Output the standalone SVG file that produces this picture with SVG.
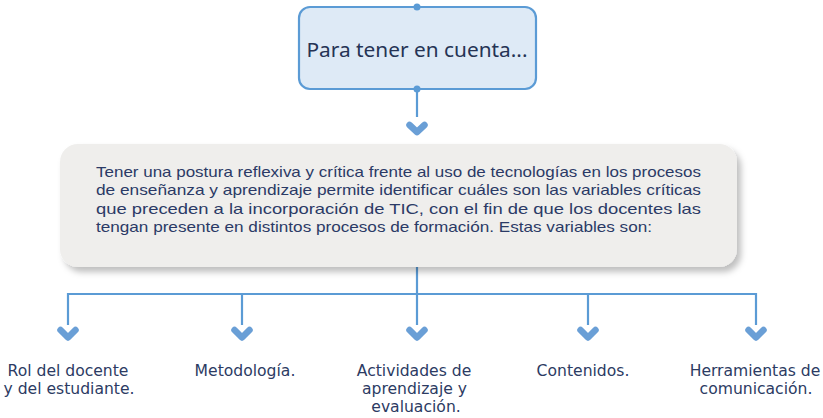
<svg xmlns="http://www.w3.org/2000/svg" width="823" height="418" viewBox="0 0 823 418">
<defs>
<style>
.line{stroke:#5b9bd5;stroke-width:2.2;fill:none}
.chev{stroke:#6a9fd6;stroke-width:6.5;fill:none;stroke-linecap:round;stroke-linejoin:round}
.lbl{font-family:"DejaVu Sans",sans-serif;font-size:15.6px;fill:#2c3b63;text-anchor:middle}
.body{font-family:"Liberation Sans",Arial,sans-serif;font-size:14.5px;fill:#2b3a66}
</style>
<filter id="sh" x="-5%" y="-10%" width="115%" height="130%">
<feDropShadow dx="4" dy="5" stdDeviation="3" flood-color="#000" flood-opacity="0.25"/>
</filter>
</defs>
<g id="connectors">
<line class="line" x1="417" y1="89" x2="417" y2="117"/>
<path class="chev" d="M409.5,125 L417,132 L424.5,125"/>
<line class="line" x1="417" y1="267" x2="417" y2="325"/>
<line class="line" x1="68" y1="294" x2="756" y2="294"/>
<line class="line" x1="68" y1="293" x2="68" y2="325"/>
<line class="line" x1="242" y1="294" x2="242" y2="325"/>
<line class="line" x1="588" y1="294" x2="588" y2="325"/>
<line class="line" x1="756" y1="293" x2="756" y2="325"/>
<path class="chev" d="M60.5,330 L68,337.5 L75.5,330"/>
<path class="chev" d="M234.5,330 L242,337.5 L249.5,330"/>
<path class="chev" d="M409.5,330 L417,337.5 L424.5,330"/>
<path class="chev" d="M580.5,330 L588,337.5 L595.5,330"/>
<path class="chev" d="M748.5,330 L756,337.5 L763.5,330"/>
</g>
<g id="top">
<rect x="299" y="7" width="237" height="82" rx="11" fill="#deeaf6" stroke="#5b9bd5" stroke-width="2.2"/>
<circle cx="417" cy="7" r="3.5" fill="#5b9bd5"/>
<circle cx="417" cy="89" r="3.5" fill="#5b9bd5"/>
<text x="417" y="57" font-family="Noto Sans,Open Sans,sans-serif" font-size="19" fill="#253455" text-anchor="middle" textLength="221" lengthAdjust="spacingAndGlyphs">Para tener en cuenta...</text>
</g>
<g id="main">
<rect x="60" y="144" width="677" height="123" rx="18" fill="#efeeec" filter="url(#sh)"/>
<text class="body" x="96" y="177" textLength="605" lengthAdjust="spacingAndGlyphs">Tener una postura reflexiva y crítica frente al uso de tecnologías en los procesos</text>
<text class="body" x="96" y="195" textLength="605" lengthAdjust="spacingAndGlyphs">de enseñanza y aprendizaje permite identificar cuáles son las variables críticas</text>
<text class="body" x="96" y="214" textLength="605" lengthAdjust="spacingAndGlyphs">que preceden a la incorporación de TIC, con el fin de que los docentes las</text>
<text class="body" x="96" y="232" textLength="556" lengthAdjust="spacingAndGlyphs">tengan presente en distintos procesos de formación. Estas variables son:</text>
</g>
<g id="n1"><text class="lbl" x="68" y="376">Rol del docente</text><text class="lbl" x="69" y="394">y del estudiante.</text></g>
<g id="n2"><text class="lbl" x="245" y="376">Metodología.</text></g>
<g id="n3"><text class="lbl" x="414" y="376">Actividades de</text><text class="lbl" x="414.5" y="394">aprendizaje y</text><text class="lbl" x="416" y="412">evaluación.</text></g>
<g id="n4"><text class="lbl" x="583" y="376">Contenidos.</text></g>
<g id="n5"><text class="lbl" x="755" y="376">Herramientas de</text><text class="lbl" x="756" y="394">comunicación.</text></g>
</svg>
